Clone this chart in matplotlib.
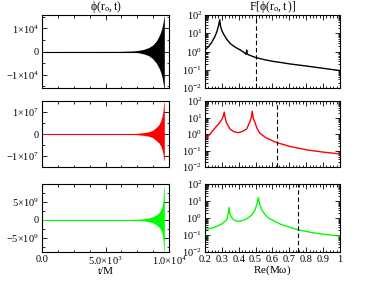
import numpy as np
import matplotlib
matplotlib.use("Agg")
import matplotlib.pyplot as plt
from matplotlib.ticker import FixedLocator, FixedFormatter, MultipleLocator, LogLocator, NullFormatter

plt.rcParams['font.family'] = ['Liberation Serif', 'DejaVu Serif']
plt.rcParams['mathtext.fontset'] = 'custom'
plt.rcParams['mathtext.rm'] = 'Liberation Serif'
plt.rcParams['mathtext.it'] = 'Liberation Serif:italic'
plt.rcParams['axes.unicode_minus'] = False

# ---- time series envelopes (t in units of M) ----
t_env = [0, 6000, 7000, 7500, 8000, 8400, 8700, 9000, 9200, 9350, 9450, 9530, 9600, 9630]
black_up = [0, 50, 200, 400, 900, 1700, 2700, 4500, 6500, 8500, 10500, 12500, 15000, 15200]
black_lo = [0, -50, -200, -450, -1000, -1800, -3000, -5000, -7000, -9000, -11000, -13500, -16000, -16000]
red_up = [0, 3e4, 1.5e5, 3e5, 6e5, 1e6, 1.6e6, 3e6, 4.2e6, 6e6, 8e6, 1.05e7, 1.45e7, 1.45e7]
red_lo = [0, -3e4, -1.5e5, -3e5, -6e5, -1e6, -1.6e6, -3e6, -4e6, -5.5e6, -7e6, -9e6, -1.2e7, -1.2e7]
green_up = [0, 2e7, 8e7, 1.5e8, 3e8, 5e8, 8e8, 1.4e9, 2e9, 2.8e9, 3.8e9, 5.5e9, 9.4e9, 9.4e9]
green_lo = [0, -2e7, -8e7, -1.5e8, -3e8, -5e8, -8e8, -1.4e9, -2e9, -2.8e9, -3.8e9, -5.5e9, -9e9, -9e9]

# ---- spectra ----
freq_black = [0.20, 0.22, 0.24, 0.26, 0.27, 0.28, 0.287, 0.293, 0.30, 0.31, 0.33, 0.35, 0.38,
              0.41, 0.43, 0.44, 0.443, 0.447, 0.451, 0.46, 0.48, 0.50, 0.55, 0.60, 0.65,
              0.70, 0.80, 0.90, 1.00]
amp_black = [1.2, 1.8, 3.2, 7, 12, 25, 55, 22, 14, 9, 4.5, 2.7, 1.7,
             1.2, 0.9, 0.75, 0.7, 1.2, 0.72, 0.65, 0.55, 0.47, 0.36, 0.29, 0.25,
             0.21, 0.16, 0.12, 0.09]
freq_red = [0.20, 0.23, 0.25, 0.28, 0.30, 0.308, 0.314, 0.32, 0.328, 0.348, 0.37, 0.397,
            0.42, 0.447, 0.467, 0.475, 0.48, 0.486, 0.496, 0.51, 0.526, 0.56, 0.625, 0.70,
            0.80, 0.90, 1.00]
amp_red = [0.47, 1.0, 1.8, 4.0, 7.5, 12, 21, 9, 4.7, 2.0, 1.4, 1.2,
           1.4, 2.0, 5.8, 11, 24, 9, 5, 2.0, 1.1, 0.6, 0.30, 0.18,
           0.11, 0.08, 0.062]
freq_green = [0.20, 0.23, 0.26, 0.30, 0.33, 0.337, 0.342, 0.347, 0.354, 0.37, 0.388, 0.42,
              0.447, 0.48, 0.496, 0.508, 0.516, 0.524, 0.536, 0.56, 0.585, 0.65, 0.753,
              0.85, 1.00]
amp_green = [0.21, 0.24, 0.29, 0.45, 0.8, 1.6, 4.2, 1.8, 1.2, 0.8, 0.64, 0.7,
             0.88, 1.6, 3.0, 6.5, 16, 6.5, 3.0, 1.4, 0.88, 0.42, 0.20,
             0.13, 0.085]
dash_freqs = [0.5, 0.625, 0.75]

freq_ticks = [0.2, 0.3, 0.4, 0.5, 0.6, 0.7, 0.8, 0.9, 1.0]
freq_tick_labels = ['0.2', '0.3', '0.4', '0.5', '0.6', '0.7', '0.8', '0.9', '1']
t_ticks = [0, 5e3, 1e4]
t_tick_labels = ['0.0', r'$\mathrm{5.0{\times}10^{3}}$', r'$\mathrm{1.0{\times}10^{4}}$']

colors = ['black', '#ff0000', '#00ff00']
uppers = [black_up, red_up, green_up]
lowers = [black_lo, red_lo, green_lo]
ylims = [(-1.58e4, 1.58e4), (-1.49e7, 1.49e7), (-9.0e9, 1.0e10)]
ytick_vals = [[-1e4, 0, 1e4], [-1e7, 0, 1e7], [-5e9, 0, 5e9]]
ytick_labels = [[r'$\mathrm{-1{\times}10^{4}}$', '0', r'$\mathrm{1{\times}10^{4}}$'],
                [r'$\mathrm{-1{\times}10^{7}}$', '0', r'$\mathrm{1{\times}10^{7}}$'],
                [r'$\mathrm{-5{\times}10^{9}}$', '0', r'$\mathrm{5{\times}10^{9}}$']]
yminor = [5e3, 5e6, 2.5e9]
freqs = [freq_black, freq_red, freq_green]
amps = [amp_black, amp_red, amp_green]

fig = plt.figure(figsize=(3.66, 2.83), dpi=100)
W, H = 366.0, 283.0
rows = [(15, 88), (101, 167), (184, 252)]

for i in range(3):
    y0, y1 = rows[i]
    axl = fig.add_axes([42 / W, 1 - y1 / H, 127 / W, (y1 - y0) / H])
    axr = fig.add_axes([205 / W, 1 - y1 / H, 135 / W, (y1 - y0) / H])

    # time domain
    axl.fill_between(t_env, lowers[i], uppers[i], color=colors[i], lw=0)
    axl.plot([0, t_env[-1]], [0, 0], color=colors[i], lw=0.8)
    axl.set_xlim(0, 1e4)
    axl.set_ylim(*ylims[i])
    axl.yaxis.set_major_locator(FixedLocator(ytick_vals[i]))
    axl.yaxis.set_major_formatter(FixedFormatter(ytick_labels[i]))
    axl.yaxis.set_minor_locator(MultipleLocator(yminor[i]))
    axl.xaxis.set_major_locator(FixedLocator(t_ticks))
    axl.xaxis.set_minor_locator(MultipleLocator(1250))
    if i == 2:
        axl.xaxis.set_major_formatter(FixedFormatter(t_tick_labels))
        axl.set_xlabel('t/M', fontsize=8, labelpad=0)
    else:
        axl.xaxis.set_major_formatter(NullFormatter())

    # spectra
    axr.plot(freqs[i], amps[i], color=colors[i], lw=1.0)
    axr.axvline(dash_freqs[i], color='black', lw=0.8, ls=(0, (4, 2.5)))
    axr.set_yscale('log')
    axr.set_xlim(0.2, 1.0)
    axr.set_ylim(1e-2, 1e2)
    axr.yaxis.set_major_locator(LogLocator(base=10, numticks=10))
    axr.yaxis.set_minor_locator(LogLocator(base=10, subs=np.arange(2, 10), numticks=10))
    axr.yaxis.set_minor_formatter(NullFormatter())
    axr.xaxis.set_major_locator(FixedLocator(freq_ticks))
    axr.xaxis.set_minor_locator(MultipleLocator(0.02))
    if i == 2:
        axr.xaxis.set_major_formatter(FixedFormatter(freq_tick_labels))
        axr.set_xlabel(r'Re(M$\mathrm{\omega}$)', fontsize=8, labelpad=0)
    else:
        axr.xaxis.set_major_formatter(NullFormatter())

    for ax in (axl, axr):
        ax.tick_params(which='both', direction='in', top=True, right=True,
                       labelsize=7.5, pad=2, width=0.6)
        ax.tick_params(which='major', length=3.5)
        ax.tick_params(which='minor', length=1.8)
        for s in ax.spines.values():
            s.set_linewidth(0.8)

    if i == 0:
        axl.set_title(r'$\mathrm{\phi(r_o,t)}$', fontsize=8.5, pad=3)
        axr.set_title(r'$\mathrm{F[\phi(r_o,t\,)]}$', fontsize=8.5, pad=3)

fig.savefig('out.png', dpi=100)
